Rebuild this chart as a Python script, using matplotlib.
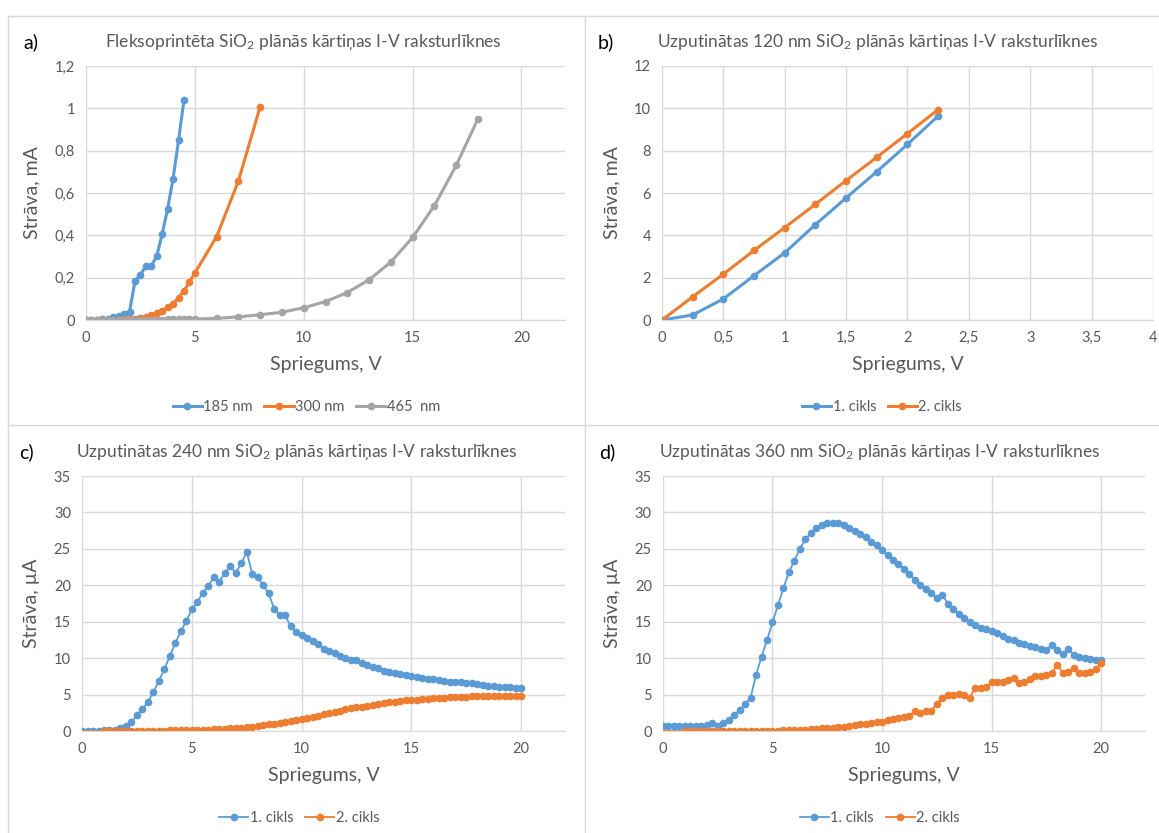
import numpy as np
import matplotlib
matplotlib.use('Agg')
import matplotlib.pyplot as plt
from matplotlib.ticker import FuncFormatter, MultipleLocator
from matplotlib.lines import Line2D

plt.rcParams['font.family'] = ['Lato', 'DejaVu Sans']
plt.rcParams['mathtext.fontset'] = 'custom'
plt.rcParams['mathtext.rm'] = 'Lato'
plt.rcParams['mathtext.it'] = 'Lato:italic'

BLUE = '#5B9BD5'
ORANGE = '#ED7D31'
GRAY = '#A5A5A5'
TXT = '#595959'
GRID = '#D9D9D9'

# a) flexo printed films, current in mA
a_x_185 = [0, 0.25, 0.5, 0.75, 1.0, 1.25, 1.5, 1.75, 2.0, 2.25, 2.5, 2.75, 3.0,
           3.25, 3.5, 3.75, 4.0, 4.25, 4.5]
a_i_185 = [0, 0.001, 0.002, 0.004, 0.007, 0.012, 0.02, 0.03, 0.04, 0.183, 0.214,
           0.255, 0.255, 0.302, 0.407, 0.526, 0.668, 0.848, 1.04]
a_x_300 = [0, 0.25, 0.5, 0.75, 1.0, 1.25, 1.5, 1.75, 2.0, 2.25, 2.5, 2.75, 3.0,
           3.25, 3.5, 3.75, 4.0, 4.25, 4.5, 4.75, 5.0, 6, 7, 8]
a_i_300 = [0, 0, 0, 0, 0.001, 0.001, 0.002, 0.003, 0.004, 0.006, 0.008, 0.015,
           0.023, 0.031, 0.044, 0.06, 0.078, 0.105, 0.138, 0.18, 0.222, 0.394,
           0.657, 1.008]
a_x_465 = [0, 0.25, 0.5, 0.75, 1.0, 1.25, 1.5, 1.75, 2.0, 2.25, 2.5, 2.75, 3.0,
           3.25, 3.5, 3.75, 4.0, 4.25, 4.5, 4.75, 5.0, 6, 7, 8, 9, 10, 11, 12,
           13, 14, 15, 16, 17, 18]
a_i_465 = [0, 0, 0, 0, 0, 0, 0, 0, 0.001, 0.001, 0.001, 0.001, 0.002, 0.002,
           0.002, 0.003, 0.003, 0.003, 0.004, 0.004, 0.005, 0.008, 0.015, 0.025,
           0.037, 0.058, 0.087, 0.13, 0.19, 0.274, 0.39, 0.54, 0.73, 0.95]

# b) 120 nm, mA
b_x = [0, 0.25, 0.5, 0.75, 1.0, 1.25, 1.5, 1.75, 2.0, 2.25]
b_i_c1 = [0, 0.24, 1.0, 2.1, 3.18, 4.51, 5.77, 7.01, 8.3, 9.64]
b_i_c2 = [0, 1.1, 2.17, 3.29, 4.37, 5.47, 6.59, 7.69, 8.81, 9.94]

# c), d) voltage sweep 0..20 V in 0.25 V steps, current in uA
sweep_c1 = np.arange(0, 20.01, 0.25)
sweep_c2 = np.concatenate([[0], np.arange(1, 20.01, 0.25)])

c_i_c1 = [0.05, 0.05, 0.05, 0.05, 0.1, 0.15, 0.2, 0.35,
          0.7, 1.2, 2.2, 3.0, 4.0, 5.3, 6.9, 8.5,
          10.3, 12.1, 13.7, 15.1, 16.7, 17.7, 19.0, 19.9,
          21.1, 20.5, 21.7, 22.6, 21.7, 23.0, 24.6, 21.6,
          21.1, 20.0, 18.9, 16.8, 15.9, 15.9, 14.4, 13.6,
          13.2, 12.8, 12.3, 11.9, 11.3, 11.0, 10.7, 10.3,
          10.0, 9.8, 9.7, 9.3, 9.0, 8.8, 8.6, 8.3,
          8.1, 8.0, 7.8, 7.7, 7.6, 7.4, 7.3, 7.2,
          7.1, 7.0, 6.9, 6.8, 6.8, 6.7, 6.6, 6.6,
          6.5, 6.3, 6.2, 6.2, 6.1, 6.0, 6.0, 5.9, 5.9]
c_i_c2 = [0,
          0.0, 0.0, 0.0, 0.0, 0.05, 0.05, 0.05, 0.05,
          0.05, 0.05, 0.05, 0.05, 0.1, 0.1, 0.1, 0.1,
          0.15, 0.15, 0.2, 0.2, 0.25, 0.3, 0.3, 0.35,
          0.4, 0.45, 0.5, 0.6,
          0.7, 0.8, 0.9, 1.0, 1.1, 1.2, 1.35, 1.5,
          1.65, 1.8, 1.95, 2.1, 2.3, 2.5, 2.65, 2.8,
          3.0, 3.1, 3.25, 3.35, 3.5, 3.6, 3.75, 3.85,
          3.95, 4.05, 4.15, 4.2, 4.25, 4.3, 4.4, 4.45,
          4.5, 4.55, 4.6, 4.65, 4.65, 4.7, 4.7, 4.75,
          4.75, 4.75, 4.8, 4.8, 4.8, 4.8, 4.8, 4.8, 4.8]

d_i_c1 = [0.7, 0.7, 0.7, 0.7, 0.7, 0.7, 0.7, 0.75,
          0.8, 1.05, 0.75, 1.1, 1.5, 2.2, 2.9, 3.7,
          4.6, 7.7, 10.2, 12.5, 14.9, 17.3, 19.6, 21.8,
          23.4, 25.0, 26.3, 27.2, 27.9, 28.3, 28.5, 28.6,
          28.5, 28.3, 27.9, 27.5, 27.1, 26.6, 26.0, 25.5,
          24.8, 24.1, 23.5, 22.9, 22.2, 21.5, 20.8, 20.1,
          19.5, 18.9, 18.3, 18.7, 17.5, 16.8, 16.1, 15.5,
          15.0, 14.6, 14.2, 14.0, 13.7, 13.4, 13.0, 12.7,
          12.5, 12.1, 11.9, 11.7, 11.5, 11.3, 11.1, 11.8,
          11.1, 10.6, 11.3, 10.4, 10.2, 10.0, 9.9, 9.8, 9.7]
d_i_c2 = [0,
          0.0, 0.0, 0.0, 0.0, 0.0, 0.0, 0.0, 0.0,
          0.0, 0.0, 0.0, 0.0, 0.0, 0.0, 0.05, 0.05,
          0.05, 0.05, 0.1, 0.1, 0.15, 0.15, 0.2, 0.25,
          0.3, 0.35, 0.4, 0.45,
          0.5, 0.6, 0.7, 0.8, 0.9, 1.0, 1.1, 1.2,
          1.3, 1.45, 1.6, 1.8, 1.9, 2.1, 2.7, 2.5,
          2.7, 2.8, 3.7, 4.6, 4.9, 5.0, 5.1, 4.9,
          4.6, 5.9, 5.9, 6.0, 6.7, 6.7, 6.8, 7.0,
          7.3, 6.6, 6.8, 7.1, 7.6, 7.6, 7.7, 7.9,
          9.1, 8.0, 8.1, 8.6, 8.0, 8.0, 8.1, 8.5, 9.4]


def comma(v, pos):
    s = ('%g' % v)
    return s.replace('.', ',')


def style(ax, xlim, ylim, xstep, ystep, ylabel):
    ax.set_xlim(*xlim)
    ax.set_ylim(*ylim)
    ax.xaxis.set_major_locator(MultipleLocator(xstep))
    ax.yaxis.set_major_locator(MultipleLocator(ystep))
    ax.xaxis.set_major_formatter(FuncFormatter(comma))
    ax.yaxis.set_major_formatter(FuncFormatter(comma))
    ax.grid(True, color=GRID, lw=1)
    ax.set_axisbelow(True)
    for s in ['top', 'right', 'left']:
        ax.spines[s].set_visible(False)
    ax.spines['bottom'].set_color(GRID)
    ax.tick_params(length=0, labelsize=10.5, labelcolor=TXT, pad=8)
    ax.set_xlabel('Spriegums, V', fontsize=14, color=TXT, labelpad=8)
    ax.set_ylabel(ylabel, fontsize=14, color=TXT, labelpad=10)


fig = plt.figure(figsize=(11.59, 8.33), dpi=100)

ax_a = fig.add_axes([0.0742, 0.6158, 0.4133, 0.305])
ax_b = fig.add_axes([0.5712, 0.6158, 0.4236, 0.305])
ax_c = fig.add_axes([0.0708, 0.1224, 0.4167, 0.3061])
ax_d = fig.add_axes([0.5720, 0.1224, 0.4159, 0.3061])

thick = dict(lw=2.2, marker='o', ms=4.5)
ax_a.plot(a_x_185, a_i_185, color=BLUE, label='185 nm', **thick)
ax_a.plot(a_x_300, a_i_300, color=ORANGE, label='300 nm', **thick)
ax_a.plot(a_x_465, a_i_465, color=GRAY, label='465  nm', **thick)
style(ax_a, (0, 22), (0, 1.2), 5, 0.2, 'Strāva, mA')

ax_b.plot(b_x, b_i_c1, color=BLUE, label='1. cikls', **thick)
ax_b.plot(b_x, b_i_c2, color=ORANGE, label='2. cikls', **thick)
style(ax_b, (0, 4), (0, 12), 0.5, 2, 'Strāva, mA')

thin = dict(lw=1.3, marker='o', ms=4.5)
for ax, y1, y2 in [(ax_c, c_i_c1, c_i_c2), (ax_d, d_i_c1, d_i_c2)]:
    ax.plot(sweep_c1, y1, color=BLUE, label='1. cikls', **thin)
    ax.plot(sweep_c2, y2, color=ORANGE, label='2. cikls',
            markevery=slice(1, None), **thin)
    style(ax, (0, 22), (0, 35), 5, 5, 'Strāva, µA')

titles = [
    (ax_a, 'a)', 'Fleksoprintēta SiO$_2$ plānās kārtiņas I-V raksturlīknes', 0.453, 0.46),
    (ax_b, 'b)', 'Uzputinātas 120 nm SiO$_2$ plānās kārtiņas I-V raksturlīknes', 0.44, 0.448),
    (ax_c, 'c)', 'Uzputinātas 240 nm SiO$_2$ plānās kārtiņas I-V raksturlīknes', 0.445, 0.45),
    (ax_d, 'd)', 'Uzputinātas 360 nm SiO$_2$ plānās kārtiņas I-V raksturlīknes', 0.45, 0.45),
]
for ax, tag, title, tx, lx in titles:
    ax.text(tx, 1.095, title, transform=ax.transAxes, ha='center', va='center',
            fontsize=12.5, color=TXT)
    ax.text(-0.115, 1.095, tag, transform=ax.transAxes, ha='center', va='center',
            fontsize=14, color='black')
    leg = ax.legend(loc='center', bbox_to_anchor=(lx, -0.343), ncol=3, frameon=False,
                    fontsize=10.5, handlelength=2.0, handletextpad=0.1,
                    columnspacing=0.8)
    for t in leg.get_texts():
        t.set_color(TXT)

# panel borders
W, H = 1159.0, 833.0
for x0, y0, x1, y1 in [(8, 16, 1159, 16), (8, 425, 1159, 425),
                       (8, 16, 8, 833), (585, 16, 585, 833)]:
    fig.add_artist(Line2D([x0 / W, x1 / W], [1 - y0 / H, 1 - y1 / H],
                          color=GRID, lw=1))

fig.savefig('out.png', dpi=100)
